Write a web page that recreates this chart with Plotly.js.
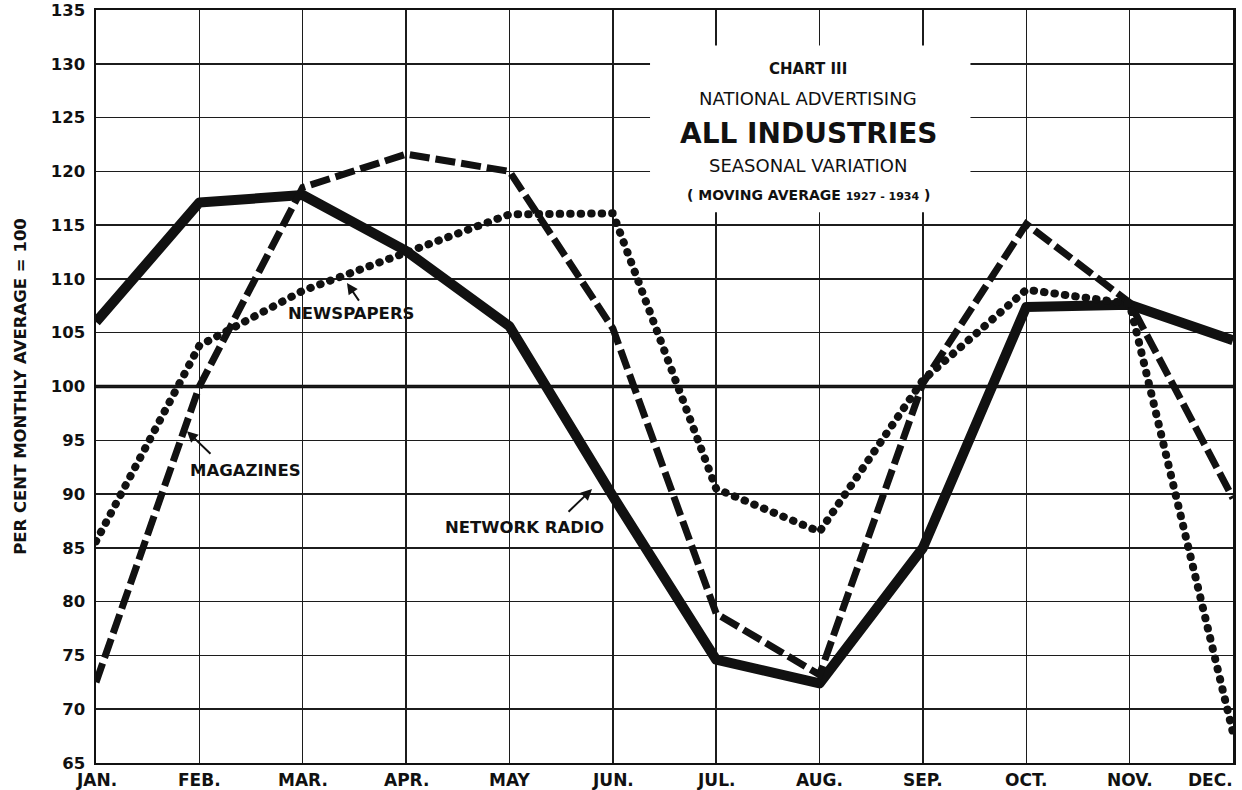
<!DOCTYPE html>
<html>
<head>
<meta charset="utf-8">
<script src="https://cdn.plot.ly/plotly-3.0.1.min.js"></script>
<style>
  html, body { margin: 0; padding: 0; background: #ffffff; }
  #chart { width: 1242px; height: 790px; }
</style>
</head>
<body>
<div id="chart"></div>
<script>
// ---- Data ----
const months = ['JAN.', 'FEB.', 'MAR.', 'APR.', 'MAY', 'JUN.', 'JUL.', 'AUG.', 'SEP.', 'OCT.', 'NOV.', 'DEC.'];
const networkRadio = [106.0, 117.1, 117.8, 112.6, 105.6, 89.8, 74.6, 72.4, 85.0, 107.4, 107.6, 104.3];
const magazines    = [72.5, 100.0, 118.5, 121.6, 120.0, 105.4, 78.9, 73.2, 100.3, 115.1, 107.8, 89.6];
const newspapers   = [85.6, 103.8, 108.9, 112.5, 116.0, 116.1, 90.5, 86.5, 100.6, 109.0, 107.7, 67.8];
const yTicks = [65, 70, 75, 80, 85, 90, 95, 100, 105, 110, 115, 120, 125, 130, 135];

const seriesNames = ['NETWORK RADIO', 'MAGAZINES', 'NEWSPAPERS'];
const titleLines = ['CHART III', 'NATIONAL ADVERTISING', 'ALL INDUSTRIES', 'SEASONAL VARIATION',
                    '( MOVING AVERAGE <span style="font-size:11px">1927 - 1934</span> )'];
const yTitle = 'PER CENT MONTHLY AVERAGE = 100';

const FONT = 'DejaVu Sans, Verdana, sans-serif';
const INK = '#111111';

const traces = [
  { x: months, y: networkRadio, name: seriesNames[0], type: 'scatter', mode: 'lines',
    line: { color: INK, width: 10, dash: 'solid' } },
  { x: months, y: magazines, name: seriesNames[1], type: 'scatter', mode: 'lines',
    line: { color: INK, width: 7, dash: '20px,6px' } },
  { x: months, y: newspapers, name: seriesNames[2], type: 'scatter', mode: 'lines',
    line: { color: INK, width: 8, dash: '0.5px,10px' } }
];

const annotations = [];
// x-axis month labels
months.forEach((m, i) => {
  const last = i === months.length - 1;
  annotations.push({
    x: m, y: 0, xref: 'x', yref: 'paper', text: '<b>' + m + '</b>', showarrow: false,
    xanchor: last ? 'right' : 'center', yanchor: 'top', yshift: -5, xshift: last ? 2 : 0,
    font: { family: FONT, size: 17, color: INK }
  });
});

// title block
const titleY = [129.5, 126.8, 123.55, 120.5, 117.8];
const titleSize = [15, 18, 28, 18, 14];
const titleBold = [true, false, true, false, true];
titleLines.forEach((t, i) => {
  annotations.push({
    x: 6.89, y: titleY[i], xref: 'x', yref: 'y', showarrow: false,
    text: titleBold[i] ? '<b>' + t + '</b>' : t,
    xanchor: 'center', yanchor: 'middle',
    font: { family: FONT, size: titleSize[i], color: INK }
  });
});

// series labels
const labelPos = [
  { x: 4.141, y: 86.93 },
  { x: 1.442, y: 92.23 },
  { x: 2.467, y: 106.82 }
];
seriesNames.forEach((n, i) => {
  annotations.push({
    x: labelPos[i].x, y: labelPos[i].y, xref: 'x', yref: 'y', showarrow: false,
    text: '<b>' + n + '</b>', xanchor: 'center', yanchor: 'middle',
    font: { family: FONT, size: 16.5, color: INK }
  });
});

// pointer arrows
const arrows = [
  { x: 4.799, y: 90.46, ax: -25, ay: 24 },
  { x: 0.880, y: 95.85, ax: 25, ay: 24 },
  { x: 2.428, y: 109.61, ax: 13, ay: 19 }
];
arrows.forEach(a => {
  annotations.push({
    x: a.x, y: a.y, xref: 'x', yref: 'y', ax: a.ax, ay: a.ay, axref: 'pixel', ayref: 'pixel',
    text: '', showarrow: true, arrowhead: 2, arrowsize: 1.1, arrowwidth: 2, arrowcolor: INK,
    standoff: 0, startstandoff: 0
  });
});

const layout = {
  width: 1242, height: 790,
  margin: { l: 96, r: 9, t: 10, b: 27 },
  paper_bgcolor: '#ffffff', plot_bgcolor: '#ffffff',
  showlegend: false,
  font: { family: FONT, color: INK },
  xaxis: {
    type: 'category', range: [0, 11], fixedrange: true,
    showgrid: true, gridcolor: '#1c1c1c', gridwidth: 1.5,
    showline: true, mirror: true, linecolor: INK, linewidth: 2,
    showticklabels: false, ticks: '', zeroline: false
  },
  yaxis: {
    range: [65, 135], fixedrange: true,
    tickvals: yTicks, ticktext: yTicks.map(v => '<b>' + v + '</b>'),
    tickfont: { family: FONT, size: 16.5, color: INK },
    showgrid: true, gridcolor: '#1c1c1c', gridwidth: 1.5,
    showline: true, mirror: true, linecolor: INK, linewidth: 2.5,
    ticks: '', ticklabelstandoff: 5, zeroline: false,
    title: { text: '<b>' + yTitle + '</b>', font: { family: FONT, size: 16.5, color: INK }, standoff: 20 }
  },
  shapes: [
    { type: 'rect', xref: 'x', yref: 'y', x0: 5.36, x1: 8.46, y0: 116.2, y1: 131.7,
      fillcolor: '#ffffff', line: { width: 0 }, layer: 'between' },
    { type: 'line', xref: 'paper', yref: 'y', x0: 0, x1: 1, y0: 100, y1: 100,
      line: { color: INK, width: 3.5 }, layer: 'between' }
  ],
  annotations: annotations
};

Plotly.newPlot('chart', traces, layout, { staticPlot: true, displayModeBar: false }).then(() => {
  const tr = document.querySelectorAll('.scatterlayer .trace');
  if (tr[2]) {
    tr[2].querySelectorAll('path.js-line').forEach(p => { p.style.strokeLinecap = 'round'; });
  }
  if (tr[0]) {
    tr[0].querySelectorAll('path.js-line').forEach(p => { p.style.strokeLinejoin = 'round'; });
  }
});
</script>
</body>
</html>
